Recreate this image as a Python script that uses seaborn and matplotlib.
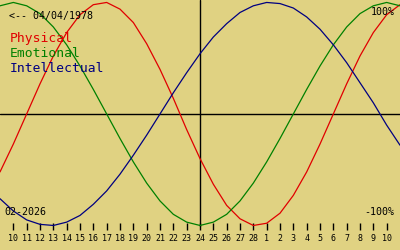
import matplotlib
matplotlib.use("Agg")
import matplotlib.pyplot as plt
import seaborn as sns
import pandas as pd

# Day offsets relative to the centre date (24 Feb 2026), one per day
day_offset = list(range(-15, 16))
# Tick labels (day of month) at offsets -14 .. 14
tick_offsets = list(range(-14, 15))
tick_labels = [str(d) for d in range(10, 29)] + [str(d) for d in range(1, 11)]

physical = [-0.52, -0.27, 0.00, 0.27, 0.52, 0.73, 0.89, 0.98, 1.00, 0.94, 0.82,
            0.63, 0.40, 0.14, -0.14, -0.40, -0.63, -0.82, -0.94, -1.00, -0.98,
            -0.89, -0.73, -0.52, -0.27, 0.00, 0.27, 0.52, 0.73, 0.89, 0.98]
emotional = [0.97, 1.00, 0.97, 0.90, 0.78, 0.62, 0.43, 0.22, 0.00, -0.22, -0.43,
             -0.62, -0.78, -0.90, -0.97, -1.00, -0.97, -0.90, -0.78, -0.62, -0.43,
             -0.22, 0.00, 0.22, 0.43, 0.62, 0.78, 0.90, 0.97, 1.00, 0.97]
intellectual = [-0.76, -0.87, -0.95, -0.99, -1.00, -0.97, -0.91, -0.81, -0.69, -0.54,
                -0.37, -0.19, 0.00, 0.19, 0.37, 0.54, 0.69, 0.81, 0.91, 0.97, 1.00,
                0.99, 0.95, 0.87, 0.76, 0.62, 0.46, 0.28, 0.10, -0.10, -0.28]

series_names = ["Physical", "Emotional", "Intellectual"]
series_colors = ["#e00000", "#008000", "#000080"]
birth_label = "<-- 04/04/1978"
month_label = "02-2026"

df = pd.DataFrame({
    "day": day_offset * 3,
    "value": physical + emotional + intellectual,
    "series": [n for n in series_names for _ in day_offset],
})

bg = "#e0d282"
sns.set_style("white")
plt.rcParams["font.family"] = ["DejaVu Sans Mono"]

fig = plt.figure(figsize=(4, 2.5), dpi=100, facecolor=bg)
ax = fig.add_axes([0, 0, 1, 1], facecolor=bg)

ax.axhline(0, color="black", lw=1.0, zorder=1)
ax.axvline(0, ymin=0.096, ymax=1, color="black", lw=1.0, zorder=1)

sns.lineplot(data=df, x="day", y="value", hue="series",
             palette=dict(zip(series_names, series_colors)),
             linewidth=0.9, legend=False, ax=ax, zorder=3)

ax.set_xlim(-15, 15)
ax.set_ylim(-1.22, 1.022)
ax.axis("off")

# day ticks
ax.vlines(tick_offsets, -1.042, -0.978, color="black", lw=1.0)
for xo, lab in zip(tick_offsets, tick_labels):
    ax.text(xo, -1.117, lab, ha="center", va="center", fontsize=6, color="black")

ax.text(-14.3, 0.875, birth_label, ha="left", va="center", fontsize=7.2, color="black")
for i, (name, col) in enumerate(zip(series_names, series_colors)):
    ax.text(-14.3, 0.68 - i * 0.135, name, ha="left", va="center", fontsize=9.4, color=col)

ax.text(14.6, 0.915, "100%", ha="right", va="center", fontsize=7.2, color="black")
ax.text(14.6, -0.88, "-100%", ha="right", va="center", fontsize=7.2, color="black")
ax.text(-14.7, -0.88, month_label, ha="left", va="center", fontsize=7.2, color="black")

fig.savefig("out.png", dpi=100, facecolor=bg)
